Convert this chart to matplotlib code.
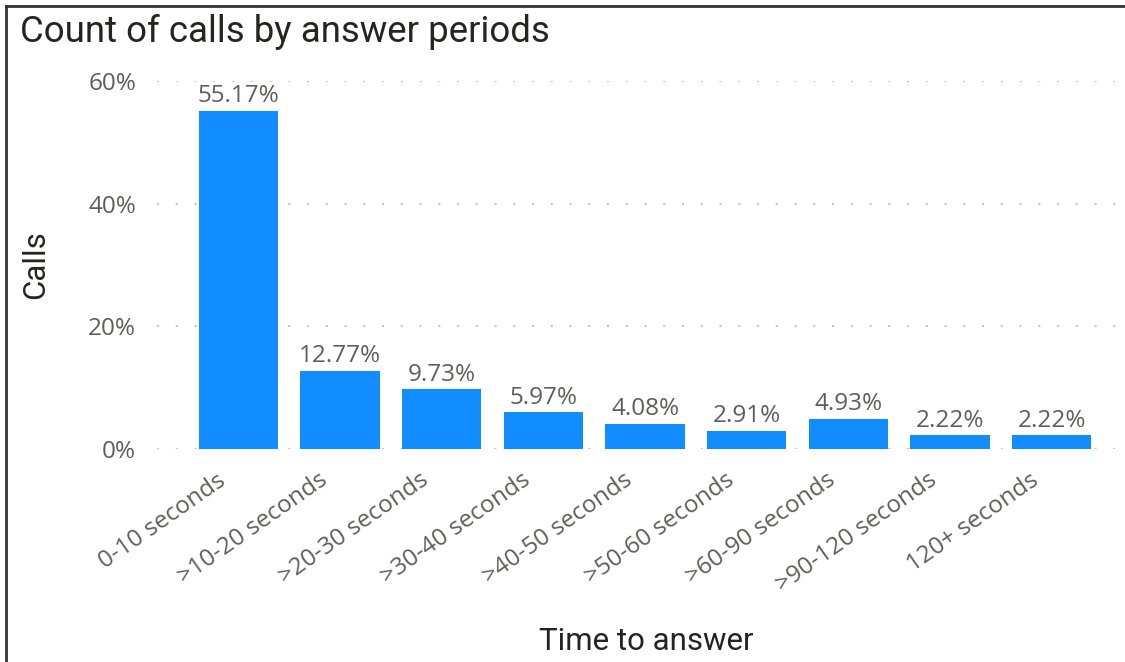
import matplotlib
matplotlib.use('Agg')
import matplotlib.pyplot as plt
import matplotlib.transforms as mtransforms
from matplotlib.ticker import PercentFormatter
from matplotlib.lines import Line2D

categories = ['0-10 seconds', '>10-20 seconds', '>20-30 seconds', '>30-40 seconds',
              '>40-50 seconds', '>50-60 seconds', '>60-90 seconds', '>90-120 seconds',
              '120+ seconds']
share = [55.17, 12.77, 9.73, 5.97, 4.08, 2.91, 4.93, 2.22, 2.22]
y_ticks = [0, 20, 40, 60]

bar_color = '#118DFF'
label_color = '#605E5C'
dark = '#252423'

fig = plt.figure(figsize=(11.25, 6.62), dpi=100)
ax = fig.add_axes([157 / 1125, 1 - 449 / 662, 1 - 157 / 1125, (449 - 81) / 662])

x = list(range(len(categories)))
ax.bar(x, share, width=0.78, color=bar_color, zorder=3)

for xi, v in zip(x, share):
    ax.annotate(f'{v:.2f}%', (xi, v), xytext=(0, 2), textcoords='offset points',
                ha='center', va='bottom', fontsize=17.5, color=label_color,
                family='Open Sans')

ax.set_ylim(0, 60)
ax.set_xlim(-0.80, 8.72)
ax.set_yticks(y_ticks)
ax.yaxis.set_major_formatter(PercentFormatter(decimals=0))
ax.grid(axis='y', color='#C8C6C4', linestyle=(0, (1, 8)), linewidth=1.5, zorder=0)
ax.set_axisbelow(True)
for s in ax.spines.values():
    s.set_visible(False)

ax.tick_params(axis='y', length=0, pad=15, labelsize=17.5, labelcolor=label_color)
ax.tick_params(axis='x', length=0, pad=14, labelsize=17.5, labelcolor=label_color)
for lbl in ax.get_yticklabels():
    lbl.set_family('Open Sans')
ax.set_xticks(x)
ax.set_xticklabels(categories, rotation=35, ha='right', va='top',
                   rotation_mode='anchor', family='Open Sans')
shift = mtransforms.ScaledTranslation(-22 / 100, 0, fig.dpi_scale_trans)
for lbl in ax.get_xticklabels():
    lbl.set_transform(lbl.get_transform() + shift)

fig.text(20 / 1125, 1 - 32 / 662, 'Count of calls by answer periods', fontsize=26.4,
         color=dark, family='Roboto', ha='left', va='center')
fig.text(36 / 1125, 1 - 265 / 662, 'Calls', fontsize=22.5, color=dark,
         family='Roboto', rotation=90, ha='center', va='center')
fig.text(646 / 1125, 1 - 641 / 662, 'Time to answer', fontsize=22.5, color=dark,
         family='Roboto', ha='center', va='center')

# frame of the visual: only the left and top edges are in view
fig.lines.append(Line2D([6 / 1125, 6 / 1125], [0, 1 - 6 / 662], transform=fig.transFigure,
                        color='#333333', linewidth=2))
fig.lines.append(Line2D([6 / 1125, 1], [1 - 6 / 662, 1 - 6 / 662], transform=fig.transFigure,
                        color='#333333', linewidth=2))

fig.savefig('out.png', dpi=100, facecolor='white')
